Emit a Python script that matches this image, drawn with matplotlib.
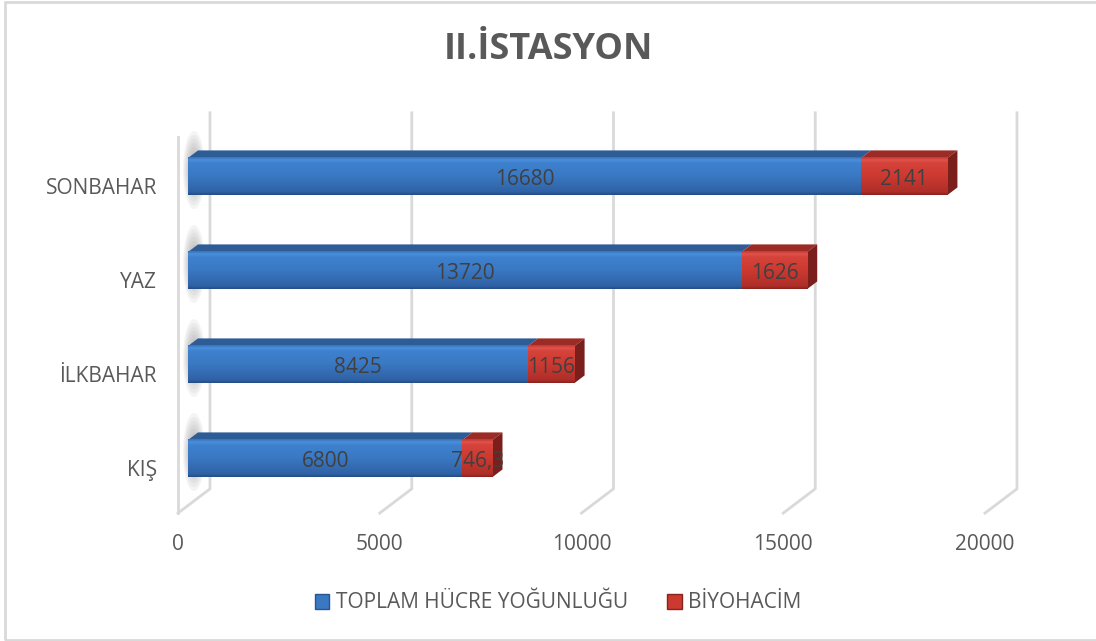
import numpy as np
import matplotlib.pyplot as plt
from matplotlib.patches import Polygon, Ellipse, Patch, Rectangle
from matplotlib.colors import LinearSegmentedColormap

plt.rcParams['font.family'] = ['Open Sans', 'DejaVu Sans']

# data
seasons = ['KIŞ', 'İLKBAHAR', 'YAZ', 'SONBAHAR']
cell_density = [6800, 8425, 13720, 16680]
biovolume = [746.3, 1156, 1626, 2141]
density_labels = ['6800', '8425', '13720', '16680']
biovolume_labels = ['746,3', '1156', '1626', '2141']
xticks = [0, 5000, 10000, 15000, 20000]
title = 'II.İSTASYON'
series_names = ['TOPLAM HÜCRE YOĞUNLUĞU', 'BİYOHACİM']

W, H = 1096, 641
VAL_PER_PX = 1 / 0.04035   # value units per pixel along x
PX_PER_CAT = 94.0           # pixels between categories
SLOPE = 0.758               # depth direction dy/dx
BAR_H = 0.394               # front face height (cat units)
BAR_D = 10                  # bar depth (px)
FRONT_D = -10               # front floor plane (px)
BACK_D = 22                 # back wall plane (px)
FLOOR, TOP = -0.5, 3.5

def proj(v, c, d):
    return v + d * VAL_PER_PX, c + d * SLOPE / PX_PER_CAT

fig = plt.figure(figsize=(W / 100, H / 100), dpi=100)
ax = fig.add_axes([0, 0, 1, 1])
xlim = (-188 * VAL_PER_PX, (W - 188) * VAL_PER_PX)
ylim = (-182.5 / PX_PER_CAT, (H - 182.5) / PX_PER_CAT)
ax.axis('off')

grid_c = '#D9D9D9'
# gridlines: floor diagonals + back verticals
for t in xticks:
    p0 = proj(t, FLOOR, FRONT_D)
    p1 = proj(t, FLOOR, BACK_D)
    p2 = proj(t, TOP, BACK_D)
    ax.plot([p0[0], p1[0], p2[0]], [p0[1], p1[1], p2[1]], color=grid_c, lw=2, zorder=1,
            solid_joinstyle='miter')
# left wall front edge
p0 = proj(0, FLOOR, FRONT_D)
p1 = proj(0, TOP, FRONT_D)
ax.plot([p0[0], p1[0]], [p0[1], p1[1]], color=grid_c, lw=2, zorder=1)

# bar shadows on the left wall
for i in range(len(seasons)):
    cx, cy = proj(0, i + 0.02, 6)
    for k in range(9):
        s = 1 - k * 0.1
        ax.add_patch(Ellipse((cx, cy), 22 * s * VAL_PER_PX, 78 * s / PX_PER_CAT,
                             color='#6f6f6f', alpha=0.07, lw=0, zorder=2))

blue_cm = LinearSegmentedColormap.from_list('b', [(0, '#244E86'), (0.08, '#2F62A6'),
                                                  (0.5, '#3A78C2'), (0.85, '#3F81CF'),
                                                  (0.93, '#4A8FDB'), (1, '#3A74BA')])
red_cm = LinearSegmentedColormap.from_list('r', [(0, '#8A221E'), (0.08, '#B02F29'),
                                                 (0.5, '#CB3931'), (0.85, '#D5433B'),
                                                 (0.93, '#E0524A'), (1, '#C63A33')])
grad = np.linspace(0, 1, 64).reshape(-1, 1)

def draw_segment(x0, x1, c, cm, top_c, side_c, side):
    y0, y1 = c - BAR_H / 2, c + BAR_H / 2
    a, b = proj(x0, y1, BAR_D), proj(x1, y1, BAR_D)
    ax.add_patch(Polygon([(x0, y1), (x1, y1), b, a], closed=True, fc=top_c, ec='none', zorder=3))
    ax.imshow(grad, cmap=cm, extent=[x0, x1, y0, y1], origin='lower', aspect='auto',
              interpolation='bilinear', zorder=4)
    if side:
        a2, b2 = proj(x1, y0, BAR_D), proj(x1, y1, BAR_D)
        ax.add_patch(Polygon([(x1, y0), (x1, y1), b2, a2], closed=True, fc=side_c, ec='none', zorder=3))

for i in range(len(seasons)):
    d, b = cell_density[i], biovolume[i]
    draw_segment(0, d, i, blue_cm, '#2E5C97', '#244E86', False)
    draw_segment(d, d + b, i, red_cm, '#9C2A25', '#7A1F1B', True)
    ax.text(d / 2, i - 0.035, density_labels[i], ha='center', va='center',
            fontsize=15, color='#404040', zorder=6)
    ax.text(d + b / 2, i - 0.035, biovolume_labels[i], ha='center', va='center',
            fontsize=15, color='#404040', zorder=6)
    lx, ly = proj(0, i, FRONT_D)
    ax.text(lx - 21 * VAL_PER_PX, ly - 0.045, seasons[i], ha='right', va='center',
            fontsize=15, color='#595959')

for t in xticks:
    tx, ty = proj(t, FLOOR, FRONT_D)
    ax.text(tx, ty - 31 / PX_PER_CAT, str(t), ha='center', va='center', fontsize=15, color='#595959')

ax.set_xlim(*xlim)
ax.set_ylim(*ylim)

fig.text(0.5, 1 - 50 / H, title, ha='center', va='center', fontsize=26,
         fontweight='bold', color='#595959')

handles = [Patch(fc='#3A78C2', ec='#2A5590'), Patch(fc='#CB3931', ec='#8A221E')]
fig.legend(handles, series_names, loc='center', bbox_to_anchor=(558 / W, 1 - 603 / H),
           ncol=2, frameon=False, fontsize=15, handlelength=0.7, handleheight=0.7,
           handletextpad=0.3, columnspacing=1.9, labelcolor='#595959')

fig.patches.append(Rectangle((5 / W, 1 / H), 1.2, (H - 3) / H, transform=fig.transFigure,
                             fill=False, ec='#D9D9D9', lw=2))

fig.savefig('out.png', dpi=100)
